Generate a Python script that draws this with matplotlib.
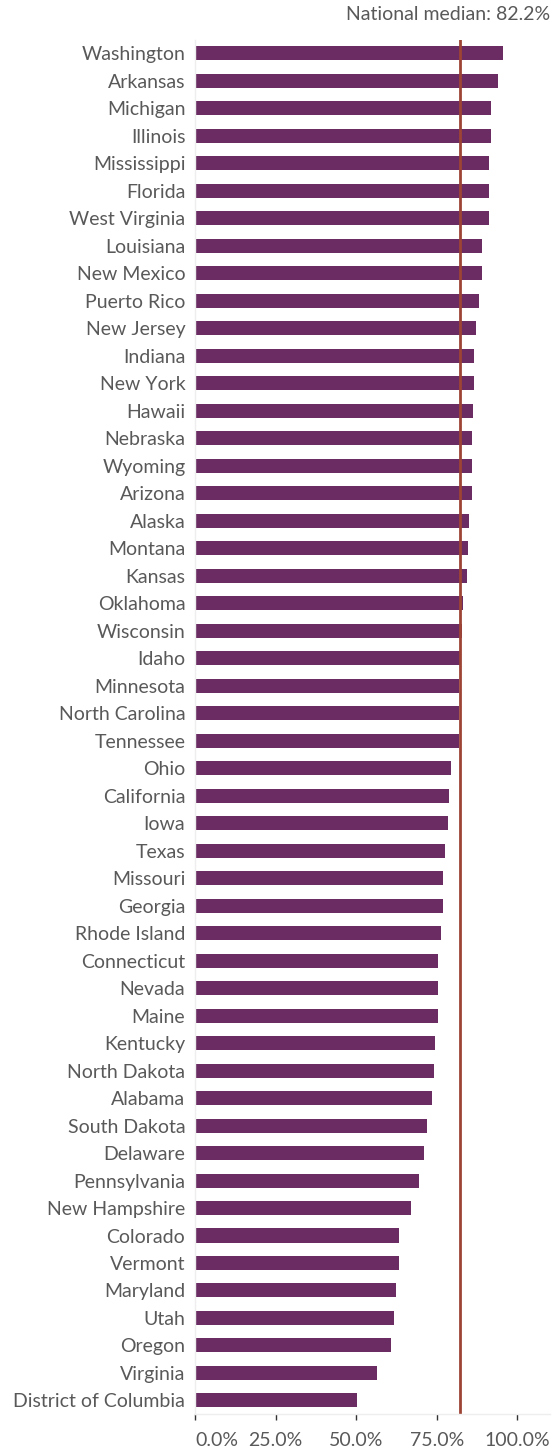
import matplotlib
matplotlib.use("Agg")
import matplotlib.pyplot as plt

##################################################
# Data
states = [
    "Washington", "Arkansas", "Michigan", "Illinois", "Mississippi", "Florida",
    "West Virginia", "Louisiana", "New Mexico", "Puerto Rico", "New Jersey",
    "Indiana", "New York", "Hawaii", "Nebraska", "Wyoming", "Arizona", "Alaska",
    "Montana", "Kansas", "Oklahoma", "Wisconsin", "Idaho", "Minnesota",
    "North Carolina", "Tennessee", "Ohio", "California", "Iowa", "Texas",
    "Missouri", "Georgia", "Rhode Island", "Connecticut", "Nevada", "Maine",
    "Kentucky", "North Dakota", "Alabama", "South Dakota", "Delaware",
    "Pennsylvania", "New Hampshire", "Colorado", "Vermont", "Maryland", "Utah",
    "Oregon", "Virginia", "District of Columbia",
]
values = [
    95.7, 93.9, 91.8, 91.8, 91.4, 91.1,
    91.1, 89.2, 89.2, 88.0, 87.3,
    86.7, 86.7, 86.4, 85.9, 85.9, 85.9, 85.1,
    84.6, 84.3, 83.3, 83.0, 82.1, 82.0,
    82.0, 81.9, 79.3, 78.8, 78.4, 77.5,
    77.1, 77.1, 76.3, 75.5, 75.5, 75.5,
    74.6, 74.1, 73.7, 72.0, 71.2,
    69.5, 66.9, 63.3, 63.3, 62.3, 61.9,
    60.7, 56.4, 50.2,
]
median = 82.2
xticks = [0, 25, 50, 75, 100]

##################################################
# Plot
plt.rcParams["font.family"] = ["Lato", "DejaVu Sans"]
text_color = "#595959"

fig = plt.figure(figsize=(5.59, 14.5), dpi=100)
ax = fig.add_axes([0.349, 0.0247, 0.635, 0.9479])

ypos = list(range(len(states)))
ax.barh(ypos, values, height=0.51, color="#6A2C62")
ax.axvline(median, color="#9E4434", linewidth=2)

ax.set_ylim(len(states) - 0.5, -0.5)
ax.set_xlim(0, 110.2)
ax.set_yticks(ypos)
ax.set_yticklabels(states, fontsize=14, color=text_color)
ax.tick_params(axis="y", length=0, pad=7)

ax.set_xticks(xticks)
ax.set_xticklabels([f"{t:.1f}%" for t in xticks], fontsize=14, color=text_color)
ax.tick_params(axis="x", length=4, width=1, color="#333333", pad=9, direction="out")
ax.xaxis.get_majorticklabels()[0].set_horizontalalignment("left")

for side in ["top", "right"]:
    ax.spines[side].set_visible(False)
for side in ["left", "bottom"]:
    ax.spines[side].set_color("#EEEEEE")
    ax.spines[side].set_linewidth(1)

ax.text(1.0, 1.0 + 25 / 1374, f"National median: {median}%", transform=ax.transAxes,
        ha="right", va="center", fontsize=14, color=text_color, clip_on=False)

fig.savefig("out.png", dpi=100)
